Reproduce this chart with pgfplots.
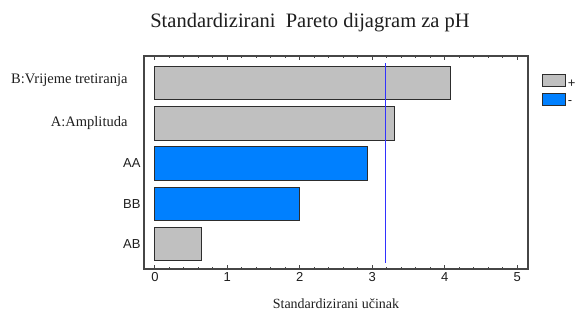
\documentclass[border=0pt]{standalone}
\usepackage{pgfplots}
\pgfplotsset{compat=1.18}
\usepackage{fontspec}
\setmainfont{Liberation Serif}
\setsansfont{Liberation Sans}
\definecolor{bargray}{RGB}{192,192,192}
\definecolor{barblue}{RGB}{0,128,255}
\definecolor{framecol}{RGB}{70,70,70}
\definecolor{edge}{RGB}{45,45,45}
\definecolor{txt}{RGB}{30,30,30}
\definecolor{critline}{RGB}{50,50,255}
\begin{document}
\begin{tikzpicture}
\path[use as bounding box] (0,0) rectangle (579pt,309pt);
\node[anchor=base,font=\fontsize{20.5}{20.5}\selectfont,text=txt] at (310pt,282pt) {Standardizirani\ \ Pareto dijagram za pH};
\begin{axis}[
  at={(144pt,40pt)}, anchor=south west, scale only axis,
  width=384pt, height=213pt,
  xmin=-0.15, xmax=5.15, ymin=-0.62, ymax=4.67,
  xtick={0,1,2,3,4,5}, minor x tick num=4, tick align=inside, xtick pos=both,
  ytick={0,1,2,3,4},
  yticklabels={{\sffamily\fontsize{13}{13}\selectfont AB},{\sffamily\fontsize{13}{13}\selectfont BB},{\sffamily\fontsize{13}{13}\selectfont AA},{A:Amplituda\hspace*{13pt}},{\raisebox{9pt}{B:Vrijeme tretiranja}\hspace*{13pt}}},
  yticklabel style={font=\fontsize{14.5}{14.5}\selectfont, text=txt},
  ytick style={draw=none},
  /pgf/number format/assume math mode=true,
  xticklabel style={font=\sffamily\fontsize{13}{13}\selectfont, text=txt},
  axis line style={draw=framecol, line width=1.1pt},
  x tick style={draw=framecol, line width=0.8pt},
  major tick length=4pt, minor tick length=2.5pt,
  xlabel={Standardizirani učinak},
  xlabel style={font=\fontsize{14}{14}\selectfont, text=txt, at={(axis description cs:0.5,0)}, anchor=base, yshift=-39pt},
  legend image code/.code={\draw[#1] (0pt,-2pt) rectangle (23pt,10pt);},
  legend style={draw=none, fill=none, at={(1.036,0.915)}, anchor=north west, inner sep=0pt, row sep=2pt,
    nodes={inner sep=2pt}, font=\sffamily\fontsize{13}{13}\selectfont, text=txt},
  legend cell align=left,
]
\addplot[xbar, bar width=0.83, bar shift=0pt, fill=bargray, draw=edge, line width=0.9pt] coordinates {(0.645,0) (3.31,3) (4.08,4)};
\addplot[xbar, bar width=0.83, bar shift=0pt, fill=barblue, draw=edge, line width=0.9pt] coordinates {(2.0,1) (2.93,2)};
\addplot[mark=none, draw=critline, line width=1.1pt] table[row sep=\\] {x y\\ 3.18 -0.47\\ 3.18 4.50\\};
\legend{+,-}
\end{axis}
\end{tikzpicture}
\end{document}
